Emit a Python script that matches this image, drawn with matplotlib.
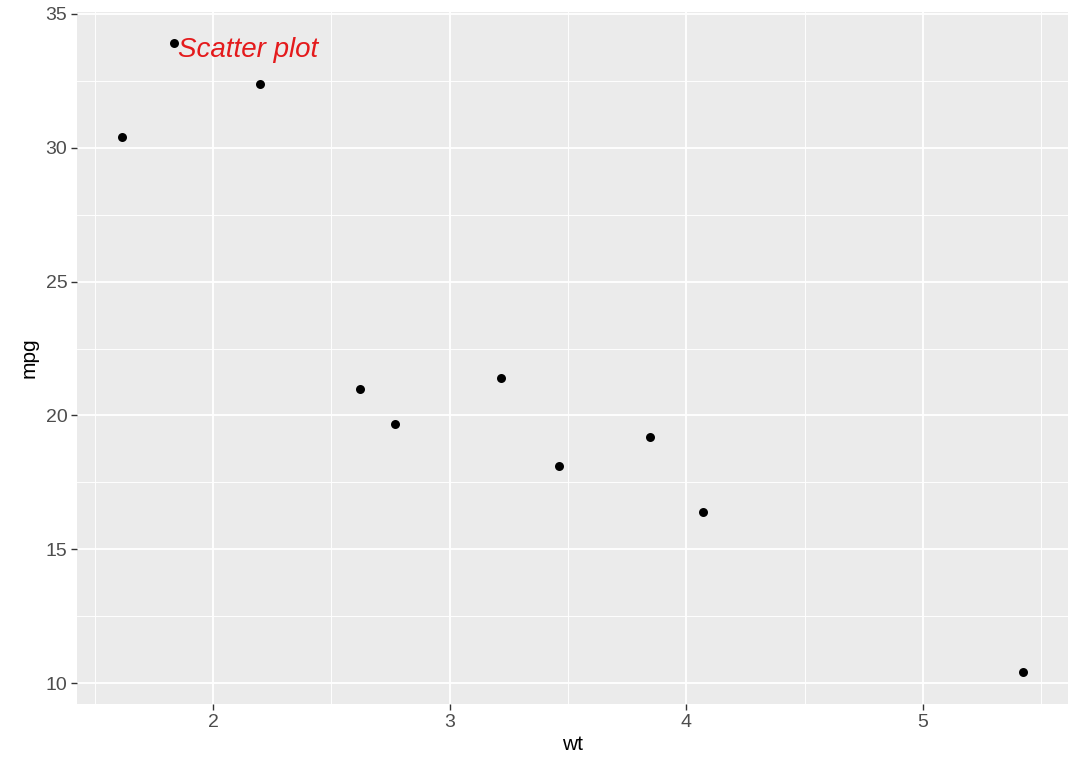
import matplotlib
matplotlib.use("Agg")
import matplotlib.pyplot as plt
import numpy as np

plt.rcParams['font.family'] = ['Liberation Sans', 'DejaVu Sans']

# data (weight vs mpg)
wt = [1.615, 1.835, 2.200, 2.620, 2.770, 3.215, 3.460, 3.845, 4.070, 5.424]
mpg = [30.4, 33.9, 32.4, 21.0, 19.7, 21.4, 18.1, 19.2, 16.4, 10.4]
x_ticks = [2, 3, 4, 5]
y_ticks = [10, 15, 20, 25, 30, 35]
label_text = "Scatter plot"
label_pos = (1.85, 33.65)

fig = plt.figure(figsize=(10.8, 7.71), dpi=100)
ax = fig.add_axes([0.0713, 0.087, 0.918, 0.8975])
ax.set_facecolor('#EBEBEB')

ax.scatter(wt, mpg, s=42, color='black', zorder=3, linewidths=0)
ax.text(label_pos[0], label_pos[1], label_text, color='#E41A1C', fontsize=20,
        style='italic', ha='left', va='center', zorder=4)

# ggplot-style expansion
xr = max(wt) - min(wt)
yr = max(mpg) - min(mpg)
ax.set_xlim(min(wt) - 0.05 * xr, max(wt) + 0.05 * xr)
ax.set_ylim(min(mpg) - 0.05 * yr, max(mpg) + 0.05 * yr)

ax.set_xticks(x_ticks)
ax.set_yticks(y_ticks)
ax.set_xticks([1.5, 2.5, 3.5, 4.5, 5.5], minor=True)
ax.set_yticks([12.5, 17.5, 22.5, 27.5, 32.5], minor=True)
ax.grid(which='major', color='white', linewidth=1.3)
ax.grid(which='minor', color='white', linewidth=0.65)
ax.set_axisbelow(True)
for sp in ax.spines.values():
    sp.set_visible(False)

ax.tick_params(which='major', length=4, width=1, color='#333333',
               labelcolor='#4D4D4D', labelsize=14, pad=3)
ax.tick_params(which='minor', length=0)

ax.set_xlabel('wt', fontsize=15, color='black', labelpad=3)
ax.set_ylabel('mpg', fontsize=15, color='black', labelpad=5)

fig.savefig('out.png', dpi=100)
